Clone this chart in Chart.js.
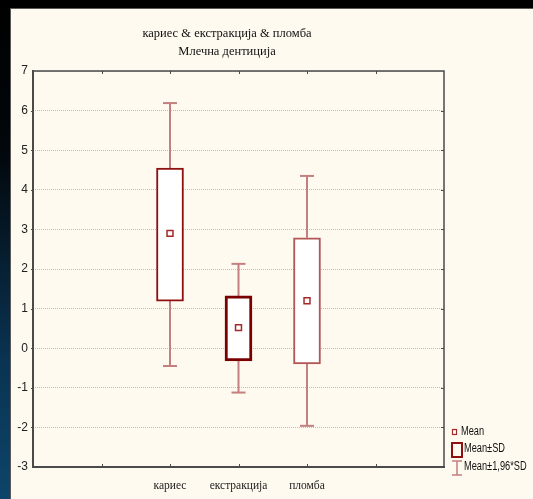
<!DOCTYPE html>
<html><head><meta charset="utf-8">
<script src="https://cdn.jsdelivr.net/npm/chart.js@4"></script>
<style>
html,body{margin:0;padding:0;width:533px;height:499px;overflow:hidden;}
body{background:linear-gradient(to bottom,#000 0%,#02070b 30%,#0a3352 72%,#0d4469 100%);}
#panel{position:absolute;left:10px;top:8px;width:523px;height:491px;background:#fffaf0;border-left:1px solid #5a5a5a;border-top:1px solid #5a5a5a;box-sizing:border-box;}
canvas{position:absolute;left:0;top:0}
</style></head><body>
<div id="panel"><canvas id="c" width="522" height="490"></canvas></div>
<script>
const titleLines = ['кариес & екстракција & пломба', 'Млечна дентиција'];
const categories = ['кариес', 'екстракција', 'пломба'];
const means   = [2.90, 0.52, 1.20];
const sdLower = [1.19, -0.32, -0.40];
const sdUpper = [4.55, 1.32, 2.79];
const ciLower = [-0.45, -1.12, -1.96];
const ciUpper = [6.19, 2.13, 4.35];
const yTickValues = [-3, -2, -1, 0, 1, 2, 3, 4, 5, 6, 7];
const legendLabels = ['Mean', 'Mean±SD', 'Mean±1,96*SD'];

const catX = i => i + 2;           // categories sit on axis slots 2,3,4 of 0..6
const boxColors = ['#8e1010', '#7a0000', '#b45656'];
const boxWidths = [2, 3, 2];
const whiskerColor = '#c47f7f';
const meanColor = '#a42a2a';

const whiskerPlugin = {
  id: 'whiskers',
  beforeDatasetsDraw(chart) {
    const {ctx, scales: {x, y}} = chart;
    ctx.save();
    ctx.strokeStyle = whiskerColor;
    ctx.lineWidth = 2;
    categories.forEach((c, i) => {
      const px = x.getPixelForValue(catX(i));
      const seg = (a, b) => {
        const ya = y.getPixelForValue(a), yb = y.getPixelForValue(b);
        ctx.beginPath(); ctx.moveTo(px, ya); ctx.lineTo(px, yb); ctx.stroke();
        ctx.beginPath(); ctx.moveTo(px - 7, yb); ctx.lineTo(px + 7, yb); ctx.stroke();
      };
      seg(sdUpper[i], ciUpper[i]);
      seg(sdLower[i], ciLower[i]);
    });
    ctx.restore();
  }
};

const framePlugin = {
  id: 'frame',
  afterDatasetsDraw(chart) {
    const {ctx, chartArea: a, scales: {x, y}} = chart;
    ctx.save();
    ctx.strokeStyle = '#4a4a4a';
    ctx.lineWidth = 1.5;
    ctx.strokeRect(a.left, a.top, a.right - a.left, a.bottom - a.top);
    ctx.lineWidth = 2;
    ctx.beginPath(); ctx.moveTo(a.left - 1, a.bottom); ctx.lineTo(a.right + 1, a.bottom); ctx.stroke();
    ctx.beginPath(); ctx.moveTo(a.left, a.top - 1); ctx.lineTo(a.left, a.bottom + 1); ctx.stroke();
    ctx.lineWidth = 1;
    for (let v = 1; v <= 5; v++) {
      const px = Math.round(x.getPixelForValue(v)) + 0.5;
      ctx.beginPath(); ctx.moveTo(px, a.top); ctx.lineTo(px, a.top + 3); ctx.stroke();
      ctx.beginPath(); ctx.moveTo(px, a.bottom); ctx.lineTo(px, a.bottom - 3); ctx.stroke();
    }
    yTickValues.slice(1, -1).forEach(v => {
      const py = Math.round(y.getPixelForValue(v)) + 0.5;
      ctx.beginPath(); ctx.moveTo(a.right, py); ctx.lineTo(a.right - 3, py); ctx.stroke();
      ctx.beginPath(); ctx.moveTo(a.left, py); ctx.lineTo(a.left - 2, py); ctx.stroke();
    });
    ctx.restore();
  }
};

const textPlugin = {
  id: 'texts',
  afterDraw(chart) {
    const {ctx} = chart;
    ctx.save();
    ctx.fillStyle = '#111';
    ctx.font = '12.5px "Liberation Serif", "Times New Roman", serif';
    ctx.textAlign = 'center';
    ctx.textBaseline = 'middle';
    ctx.fillText(titleLines[0], 216, 25);
    ctx.fillText(titleLines[1], 216, 43);

    // legend
    ctx.textAlign = 'left';
    // Mean marker
    ctx.strokeStyle = meanColor; ctx.lineWidth = 1.2;
    ctx.fillStyle = '#fff';
    ctx.fillRect(441.5, 420.5, 4, 5); ctx.strokeRect(441.5, 420.5, 4, 5);
    // Mean±SD box
    ctx.strokeStyle = boxColors[0]; ctx.lineWidth = 2;
    ctx.strokeRect(441, 434, 10, 14);
    // whisker I-beam
    ctx.strokeStyle = whiskerColor; ctx.lineWidth = 1.5;
    ctx.beginPath();
    ctx.moveTo(441, 452); ctx.lineTo(451, 452);
    ctx.moveTo(446, 452); ctx.lineTo(446, 466);
    ctx.moveTo(441, 466); ctx.lineTo(451, 466);
    ctx.stroke();
    // legend texts, horizontally condensed like a narrow face
    ctx.fillStyle = '#111';
    ctx.font = '12px "Liberation Sans", Arial, sans-serif';
    const narrow = (t, x0, y0) => {
      ctx.save(); ctx.translate(x0, y0); ctx.scale(0.77, 1); ctx.fillText(t, 0, 0); ctx.restore();
    };
    narrow(legendLabels[0], 450, 423);
    narrow(legendLabels[1], 453, 440);
    narrow(legendLabels[2], 453, 458);
    ctx.restore();
  }
};

new Chart(document.getElementById('c'), {
  type: 'bar',
  data: {
    datasets: [
      {
        label: legendLabels[1],
        data: categories.map((c, i) => ({x: catX(i), y: [sdLower[i], sdUpper[i]]})),
        backgroundColor: '#ffffff',
        borderColor: boxColors,
        borderWidth: boxWidths,
        borderSkipped: false,
        barThickness: 27,
        order: 2
      },
      {
        type: 'line',
        label: legendLabels[0],
        data: categories.map((c, i) => ({x: catX(i), y: means[i]})),
        showLine: false,
        pointStyle: 'rect',
        pointRadius: 4.2,
        pointBorderWidth: 1.5,
        pointBorderColor: meanColor,
        pointBackgroundColor: '#ffffff',
        order: 1
      }
    ]
  },
  options: {
    responsive: false,
    animation: false,
    devicePixelRatio: 1,
    layout: {padding: {left: 0, right: 89, top: 62, bottom: 0}},
    plugins: {legend: {display: false}, tooltip: {enabled: false}, title: {display: false}},
    scales: {
      x: {
        type: 'linear', min: 0, max: 6, offset: false,
        grid: {display: false, drawTicks: false, offset: false},
        border: {display: false},
        afterFit: s => { s.height = 32; },
        ticks: {
          stepSize: 1, autoSkip: false, maxRotation: 0, padding: 12,
          color: '#222',
          font: {family: '"Liberation Serif", "Times New Roman", serif', size: 11.5},
          callback: v => { const i = v - 2; return (i >= 0 && i < categories.length) ? categories[i] : ''; }
        }
      },
      y: {
        min: yTickValues[0], max: yTickValues[yTickValues.length - 1],
        afterFit: s => { s.width = 22; },
        grid: {color: '#bdbdbd', lineWidth: 1, drawTicks: false},
        border: {display: false, dash: [1, 1]},
        afterBuildTicks: s => { s.ticks = yTickValues.map(v => ({value: v})); },
        ticks: {
          padding: 5, color: '#222',
          font: {family: '"Liberation Sans", Arial, sans-serif', size: 12}
        }
      }
    }
  },
  plugins: [whiskerPlugin, framePlugin, textPlugin]
});
</script>
</body></html>
